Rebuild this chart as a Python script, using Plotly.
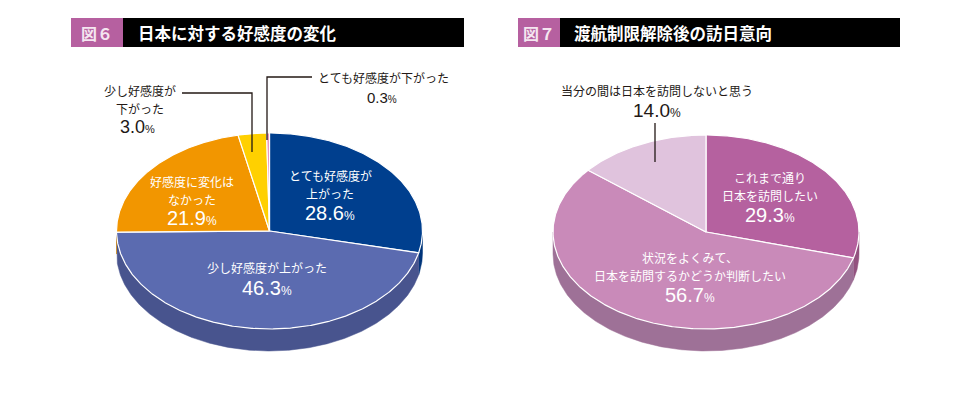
import numpy as np
import plotly.graph_objects as go

# ---------------- data ----------------
fig6_title = "日本に対する好感度の変化"
fig6_tag = "図６"
fig6_labels = ["とても好感度が<br>上がった", "少し好感度が上がった", "好感度に変化は<br>なかった",
               "少し好感度が<br>下がった", "とても好感度が下がった"]
fig6_values = [28.6, 46.3, 21.9, 3.0, 0.3]
fig6_colors = ["#003f8e", "#5b6bb0", "#f29600", "#ffd000", "#e98dba"]
fig6_side_colors = ["#00357a", "#48548e", "#c97c00", "#d9b000", "#c47399"]

fig7_title = "渡航制限解除後の訪日意向"
fig7_tag = "図７"
fig7_labels = ["これまで通り<br>日本を訪問したい", "状況をよくみて、<br>日本を訪問するかどうか判断したい",
               "当分の間は日本を訪問しないと思う"]
fig7_values = [29.3, 56.7, 14.0]
fig7_colors = ["#b5619f", "#c98ab9", "#e0c3dd"]
fig7_side_colors = ["#93527f", "#9e7197", "#b89cb4"]

JP = "Noto Sans CJK JP"
NUM = "Liberation Sans"

fig = go.Figure()


def arc(cx, cy, rx, ry, a0, a1, dy=0.0):
    n = max(2, int(abs(a1 - a0) * 2) + 2)
    t = np.radians(np.linspace(a0, a1, n))
    return cx + rx * np.sin(t), cy - ry * np.cos(t) + dy


def add_pie3d(values, colors, side_colors, cx, cy, rx, ry, depth):
    vals = np.array(values, dtype=float)
    edges = np.concatenate([[0], np.cumsum(vals) / vals.sum() * 360.0])
    # sides (front half only: 90..270 deg)
    for i in range(len(vals)):
        a, b = max(edges[i], 90.0), min(edges[i + 1], 270.0)
        if b > a:
            xt, yt = arc(cx, cy, rx, ry, a, b)
            xb, yb = arc(cx, cy, rx, ry, b, a, depth)
            fig.add_trace(go.Scatter(
                x=np.concatenate([xt, xb, xt[:1]]), y=np.concatenate([yt, yb, yt[:1]]),
                fill="toself", fillcolor=side_colors[i], mode="lines",
                line=dict(color=side_colors[i], width=0.5),
                hoverinfo="skip", showlegend=False))
    # top faces
    for i in range(len(vals)):
        xa, ya = arc(cx, cy, rx, ry, edges[i], edges[i + 1])
        fig.add_trace(go.Scatter(
            x=np.concatenate([[cx], xa, [cx]]), y=np.concatenate([[cy], ya, [cy]]),
            fill="toself", fillcolor=colors[i], mode="lines",
            line=dict(color="white", width=1.2),
            hoverinfo="skip", showlegend=False))


add_pie3d(fig6_values, fig6_colors, fig6_side_colors, 269.5, 231, 153, 98, 22)
add_pie3d(fig7_values, fig7_colors, fig7_side_colors, 706, 232, 153, 97, 22)

ann = []


def text_at(x, y, text, size=12, color="white", family=JP):
    ann.append(dict(x=x, y=y, xref="x", yref="y", text=text, showarrow=False,
                    xanchor="center", yanchor="middle", borderpad=0,
                    font=dict(family=family, size=size, color=color)))


def block(label, value, x, ys, color="white", nsize=20, psize=12, xn=None):
    """label lines (split on <br>) at ys[:-1], value at ys[-1]"""
    lines = label.split("<br>")
    for ln, y in zip(lines, ys[:-1]):
        text_at(x, y, ln, color=color)
    text_at(x if xn is None else xn, ys[-1],
            f"{value:.1f}<span style='font-size:{psize}px'>%</span>",
            size=nsize, color=color, family=NUM)


# headers
shapes = [
    dict(type="rect", x0=71, x1=123, y0=18, y1=47, fillcolor="#b660a0", line_width=0, layer="below"),
    dict(type="rect", x0=123, x1=464, y0=18, y1=47, fillcolor="#000000", line_width=0, layer="below"),
    dict(type="rect", x0=518, x1=560, y0=18, y1=47, fillcolor="#b660a0", line_width=0, layer="below"),
    dict(type="rect", x0=560, x1=900, y0=18, y1=47, fillcolor="#000000", line_width=0, layer="below"),
]
for x, t in [(97, fig6_tag), (539, fig7_tag)]:
    ann.append(dict(x=x, y=33, xref="x", yref="y", text=f"<b>{t}</b>", showarrow=False,
                    font=dict(family=JP, size=16, color="#f4e6f0")))
ann.append(dict(x=136, y=33, xref="x", yref="y", text=f"<b>{fig6_title}</b>", showarrow=False,
                xanchor="left", font=dict(family=JP, size=16.5, color="white")))
ann.append(dict(x=572, y=33, xref="x", yref="y", text=f"<b>{fig7_title}</b>", showarrow=False,
                xanchor="left", font=dict(family=JP, size=16.5, color="white")))

# leader lines
line_style = dict(color="#231815", width=1.3)
shapes += [
    dict(type="path", path="M 182 93 L 252 93 L 252 152", line=line_style),
    dict(type="path", path="M 312 77 L 267 77 L 267 140", line=line_style),
    dict(type="line", x0=655, x1=655, y0=123, y1=162, line=line_style),
]

DARK = "#231815"
# figure 6 labels
block(fig6_labels[0], fig6_values[0], 330, [175, 193, 213])
block(fig6_labels[1], fig6_values[1], 267, [267, 288])
block(fig6_labels[2], fig6_values[2], 192, [181, 199, 218])
block(fig6_labels[3], fig6_values[3], 140, [90, 108, 127], color=DARK, nsize=18, psize=11, xn=137)
block(fig6_labels[4], fig6_values[4], 383, [77, 97], color=DARK, nsize=15, psize=10, xn=382)

# figure 7 labels
block(fig7_labels[0], fig7_values[0], 770, [177, 195, 215])
block(fig7_labels[1], fig7_values[1], 690, [257, 275, 295])
block(fig7_labels[2], fig7_values[2], 657, [90, 110], color=DARK, nsize=19, psize=12)

fig.update_layout(
    width=970, height=397, margin=dict(l=0, r=0, t=0, b=0),
    paper_bgcolor="white", plot_bgcolor="white",
    xaxis=dict(range=[0, 970], visible=False, fixedrange=True),
    yaxis=dict(range=[397, 0], visible=False, fixedrange=True),
    shapes=shapes, annotations=ann, showlegend=False,
)

fig.write_html("out.html", config={"displayModeBar": False},
               post_script="document.body.style.margin='0';")
